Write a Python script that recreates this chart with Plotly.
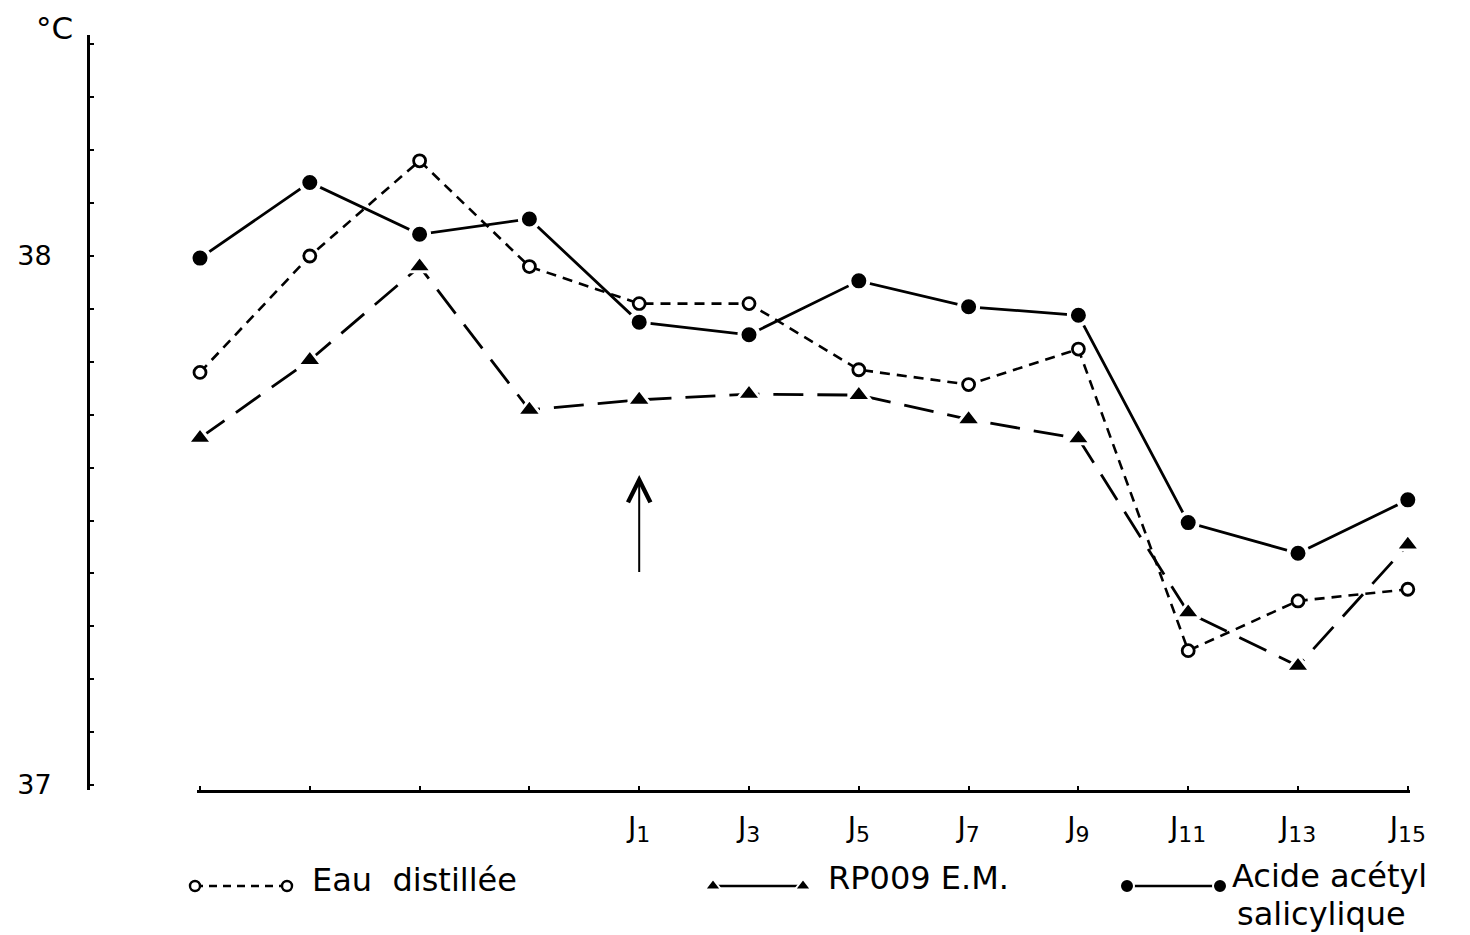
import plotly.graph_objects as go

# Rectal temperature (°C) over the observation days
x_idx = list(range(12))
day_numbers = ["", "", "", "", "1", "3", "5", "7", "9", "11", "13", "15"]
x_labels = [f"J<sub><span style='font-size:22px'>{d}</span></sub>" if d else "" for d in day_numbers]

eau_distillee = [37.78, 38.00, 38.18, 37.98, 37.91, 37.91, 37.785, 37.757, 37.824, 37.254, 37.348, 37.37]
rp009 = [37.656, 37.803, 37.98, 37.709, 37.728, 37.739, 37.737, 37.691, 37.655, 37.326, 37.225, 37.454]
aspirine = [37.996, 38.139, 38.041, 38.07, 37.875, 37.851, 37.953, 37.904, 37.888, 37.496, 37.438, 37.539]

y_ticks = [37, 38]
y_ticklabels = ["37", "38"]

# arrow marking the start of treatment (J1)
arrow_x = 4
arrow_from, arrow_to = 37.40, 37.586

W, H = 1470, 935
FONT = "DejaVu Sans"
INK = "black"

fig = go.Figure()

fig.add_trace(go.Scatter(
    x=x_idx, y=eau_distillee, mode="lines+markers", cliponaxis=False,
    line=dict(color=INK, width=2.6, dash="10px,7px"),
    marker=dict(symbol="circle", size=12, color="white", line=dict(color=INK, width=2.8)),
    showlegend=False))

fig.add_trace(go.Scatter(
    x=x_idx, y=rp009, mode="lines+markers", cliponaxis=False,
    line=dict(color=INK, width=2.8, dash="30px,14px"),
    marker=dict(symbol="triangle-up", size=21, color=INK, line=dict(color="white", width=3)),
    showlegend=False))

fig.add_trace(go.Scatter(
    x=x_idx, y=aspirine, mode="lines+markers", cliponaxis=False,
    line=dict(color=INK, width=2.8),
    marker=dict(symbol="circle", size=19, color=INK, line=dict(color="white", width=4)),
    showlegend=False))

# legend glyphs, placed on a hidden page-sized pixel axis
leg_y = 886
fig.add_trace(go.Scatter(
    x=[195, 287], y=[leg_y, leg_y], xaxis="x2", yaxis="y2", mode="lines+markers", cliponaxis=False,
    line=dict(color=INK, width=2.4, dash="8px,6px"),
    marker=dict(symbol="circle", size=10, color="white", line=dict(color=INK, width=2.4)),
    showlegend=False, hoverinfo="skip"))
fig.add_trace(go.Scatter(
    x=[713, 803], y=[leg_y, leg_y], xaxis="x2", yaxis="y2", mode="lines+markers", cliponaxis=False,
    line=dict(color=INK, width=2.4),
    marker=dict(symbol="triangle-up", size=14, color=INK, line=dict(color="white", width=2)),
    showlegend=False, hoverinfo="skip"))
fig.add_trace(go.Scatter(
    x=[1127, 1220], y=[leg_y, leg_y], xaxis="x2", yaxis="y2", mode="lines+markers", cliponaxis=False,
    line=dict(color=INK, width=2.4),
    marker=dict(symbol="circle", size=14, color=INK, line=dict(color="white", width=2)),
    showlegend=False, hoverinfo="skip"))

legend_texts = [
    (310, 880, "Eau  distillée"),
    (826, 878, "RP009 E.M."),
    (1230, 876, "Acide acétyl"),
    (1235, 914, "salicylique"),
]
annotations = [
    dict(x=x, y=y, xref="x2", yref="y2", text=t, showarrow=False, xanchor="left", yanchor="middle",
         font=dict(family=FONT, size=32, color=INK))
    for x, y, t in legend_texts
]
annotations.append(dict(x=54, y=28, xref="x2", yref="y2", text="°C", showarrow=False,
                        font=dict(family=FONT, size=31, color=INK)))
annotations.append(dict(x=arrow_x, y=arrow_to, ax=arrow_x, ay=arrow_from, xref="x", yref="y",
                        axref="x", ayref="y", text="", showarrow=True, arrowhead=5,
                        arrowsize=2.2, arrowwidth=2, arrowcolor=INK))

# pixel layout of the plot area
px_x0, px_x1 = 197, 1410
px_top, px_bot = 35, 790
y_lo = 37 + (785 - px_bot) / 529
y_hi = 37 + (785 - px_top) / 529
x_lo = (px_x0 - 200) / 109.8
x_hi = (px_x1 - 200) / 109.8

fig.update_layout(
    width=W, height=H, margin=dict(l=0, r=0, t=0, b=0, autoexpand=False),
    paper_bgcolor="white", plot_bgcolor="rgba(0,0,0,0)",
    font=dict(family=FONT, color=INK),
    annotations=annotations,
    xaxis=dict(
        domain=[px_x0 / W, px_x1 / W], range=[x_lo, x_hi], anchor="y", automargin=False,
        showgrid=False, zeroline=False, showline=True, linecolor=INK, linewidth=3,
        tickmode="array", tickvals=x_idx, ticktext=x_labels,
        ticks="inside", ticklen=4, tickwidth=2, tickcolor=INK,
        tickfont=dict(family=FONT, size=28, color=INK), ticklabelstandoff=10,
    ),
    yaxis=dict(
        domain=[1 - px_bot / H, 1 - px_top / H], range=[y_lo, y_hi], automargin=False,
        anchor="free", position=88 / W,
        showgrid=False, zeroline=False, showline=True, linecolor=INK, linewidth=3,
        tickmode="array", tickvals=y_ticks, ticktext=y_ticklabels,
        ticks="inside", ticklen=4, tickwidth=2, tickcolor=INK,
        tickfont=dict(family=FONT, size=27, color=INK), ticklabelstandoff=30,
        minor=dict(dtick=0.1, tick0=37, ticks="inside", ticklen=4, tickwidth=2, tickcolor=INK),
    ),
    xaxis2=dict(domain=[0, 1], range=[0, W], visible=False, anchor="y2", fixedrange=True),
    yaxis2=dict(domain=[0, 1], range=[H, 0], visible=False, anchor="x2", fixedrange=True),
)

fig.write_html("out.html")
